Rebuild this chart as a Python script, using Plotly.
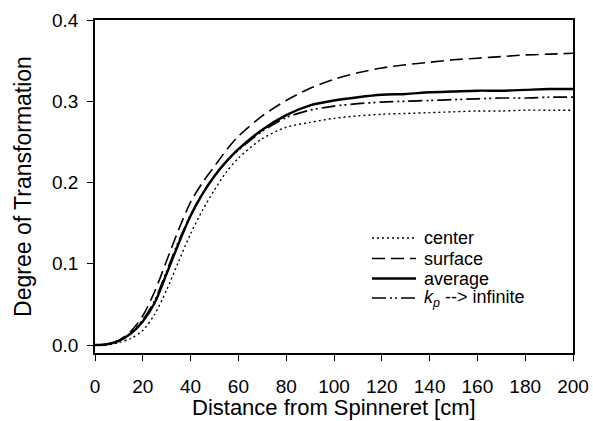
import plotly.graph_objects as go

distance = [0, 5, 10, 15, 20, 25, 30, 35, 40, 45, 50, 55, 60, 70, 80, 90, 100,
            110, 120, 130, 140, 150, 160, 170, 180, 190, 200]

center = [0.000, 0.000, 0.003, 0.008, 0.018, 0.038, 0.068, 0.103, 0.137, 0.166,
          0.191, 0.213, 0.230, 0.254, 0.268, 0.274, 0.279, 0.282, 0.284, 0.285,
          0.286, 0.287, 0.288, 0.288, 0.289, 0.289, 0.289]
surface = [0.000, 0.001, 0.006, 0.017, 0.036, 0.066, 0.104, 0.142, 0.176, 0.200,
           0.220, 0.240, 0.257, 0.282, 0.301, 0.316, 0.327, 0.335, 0.341, 0.345,
           0.348, 0.351, 0.353, 0.355, 0.357, 0.358, 0.359]
average = [0.000, 0.001, 0.005, 0.014, 0.029, 0.052, 0.088, 0.125, 0.159, 0.186,
           0.208, 0.226, 0.241, 0.265, 0.283, 0.295, 0.301, 0.305, 0.308, 0.309,
           0.311, 0.312, 0.313, 0.313, 0.314, 0.315, 0.315]
kp_infinite = [0.000, 0.001, 0.005, 0.015, 0.031, 0.055, 0.091, 0.128, 0.160, 0.187,
               0.208, 0.226, 0.240, 0.263, 0.280, 0.289, 0.294, 0.297, 0.299, 0.300,
               0.301, 0.302, 0.303, 0.304, 0.304, 0.305, 0.305]

series_names = ["center", "surface", "average",
                "<i>k</i><sub><i>p</i></sub> --&gt; infinite"]

x_ticks = [0, 20, 40, 60, 80, 100, 120, 140, 160, 180, 200]
y_ticks = [0.0, 0.1, 0.2, 0.3, 0.4]
x_title = "Distance from Spinneret [cm]"
y_title = "Degree of Transformation"

FONT = "Liberation Sans, Arial, sans-serif"

styles = [
    dict(color="black", width=1.4, dash="2px,3px"),
    dict(color="black", width=1.6, dash="13px,6px"),
    dict(color="black", width=2.4),
    dict(color="black", width=1.7, dash="14px,4px,2px,3px,2px,4px"),
]

fig = go.Figure()
for name, vals, line in zip(series_names, [center, surface, average, kp_infinite], styles):
    fig.add_trace(go.Scatter(x=distance, y=vals, mode="lines", name=name,
                             showlegend=False,
                             line=dict(shape="spline", smoothing=0.8, **line)))

# manual legend and x-axis title (paper coordinates)
L, R, T, B = 95, 573, 20, 353
def px_x(p):
    return (p - L) / (R - L)
def px_y(p):
    return (B - p) / (B - T)

row_px = [238, 258.5, 278.5, 298]
for name, line, rp in zip(series_names, styles, row_px):
    fig.add_shape(type="line", xref="paper", yref="paper",
                  x0=px_x(372), x1=px_x(416), y0=px_y(rp), y1=px_y(rp),
                  line=line)
    fig.add_annotation(xref="paper", yref="paper", x=px_x(423), y=px_y(rp),
                       xanchor="left", yanchor="middle", showarrow=False,
                       borderpad=0,
                       text=name, font=dict(family=FONT, size=18, color="black"))

fig.add_annotation(xref="paper", yref="paper", x=0.5, y=px_y(421),
                   xanchor="center", yanchor="bottom", showarrow=False,
                   borderpad=0,
                   text=x_title, font=dict(family=FONT, size=22, color="black"))

axis_common = dict(showline=True, linecolor="black", linewidth=1.5, mirror=True,
                   ticks="outside", ticklen=6, tickwidth=1.2, tickcolor="black",
                   showgrid=False, zeroline=False, automargin=False,
                   tickfont=dict(family=FONT, size=19, color="black"))

fig.update_xaxes(range=[0, 200], tickvals=x_ticks,
                 ticktext=[str(v) for v in x_ticks], ticklabelstandoff=9,
                 **axis_common)
fig.update_yaxes(range=[-0.0098, 0.4], tickvals=y_ticks,
                 ticktext=[f"{v:.1f}" for v in y_ticks], ticklabelstandoff=5,
                 title=dict(text=y_title,
                            font=dict(family=FONT, size=23, color="black"),
                            standoff=14),
                 **axis_common)

fig.update_layout(
    width=593, height=421,
    margin=dict(l=95, r=20, t=20, b=68, autoexpand=False),
    paper_bgcolor="white", plot_bgcolor="white",
    font=dict(family=FONT, color="black"),
    showlegend=False,
)

fig.write_html("out.html")
